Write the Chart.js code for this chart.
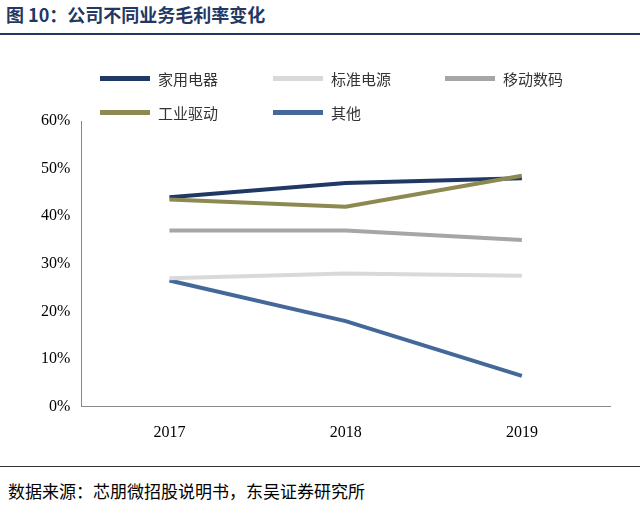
<!DOCTYPE html>
<html><head><meta charset="utf-8">
<script src="https://cdn.jsdelivr.net/npm/chart.js@4"></script>
<style>
body{margin:0;width:640px;height:516px;background:#fff;font-family:"Noto Sans CJK SC",sans-serif;position:relative;overflow:hidden}
#title{position:absolute;left:6px;top:1px;font-size:18px;font-weight:bold;color:#1f3864}
#tline{position:absolute;left:0;top:33px;width:640px;height:2px;background:#1f3864}
#fline{position:absolute;left:0;top:466px;width:640px;height:1px;background:#333}
#foot{position:absolute;left:8px;top:478px;font-size:17px;color:#000}
#wrap{position:absolute;left:0;top:40px;width:640px;height:420px}
.leg{position:absolute;font-size:15px;color:#333;display:flex;align-items:center}
.leg span{display:inline-block;width:50px;height:5px;margin-right:8px}
</style></head><body>
<div id="title">图 10：公司不同业务毛利率变化</div>
<div id="tline"></div>
<div id="wrap"><canvas id="c"></canvas></div>
<div id="legend"></div>
<div id="fline"></div>
<div id="foot">数据来源：芯朋微招股说明书，东吴证券研究所</div>
<script>
const categories=["2017","2018","2019"];
const names=["家用电器","标准电源","移动数码","工业驱动","其他"];
const jiadian=[44,47,48];
const biaozhun=[27,28,27.5];
const yidong=[37,37,35];
const gongye=[43.5,42,48.5];
const qita=[26.5,18,6.5];
const colors=["#1f3864","#d9d9d9","#a6a6a6","#8c8a50","#44689a"];
const series=[jiadian,biaozhun,yidong,gongye,qita];
const pos=[[100,78],[273,78],[445,78],[100,112],[273,112]];
const lg=document.getElementById('legend');
names.forEach((n,i)=>{const d=document.createElement('div');d.className='leg';d.style.left=pos[i][0]+'px';d.style.top=(pos[i][1]-10)+'px';d.innerHTML='<span style="background:'+colors[i]+'"></span>'+n;lg.appendChild(d);});
const order=[1,2,4,3,0];
new Chart(document.getElementById('c'),{type:'line',
data:{labels:categories,datasets:order.map(i=>({label:names[i],data:series[i],borderColor:colors[i],borderWidth:4,pointRadius:0,tension:0}))},
options:{responsive:true,maintainAspectRatio:false,animation:false,
layout:{padding:{top:81,left:38,right:30,bottom:10}},
plugins:{legend:{display:false},tooltip:{enabled:false}},
scales:{x:{offset:true,grid:{display:false},border:{color:'#888'},ticks:{color:'#000',font:{family:'Liberation Serif',size:16},padding:8}},
y:{min:0,max:60,grid:{display:false},border:{color:'#888'},ticks:{stepSize:10,color:'#000',font:{family:'Liberation Serif',size:16},callback:v=>v+'%'}}}}});
</script></body></html>
